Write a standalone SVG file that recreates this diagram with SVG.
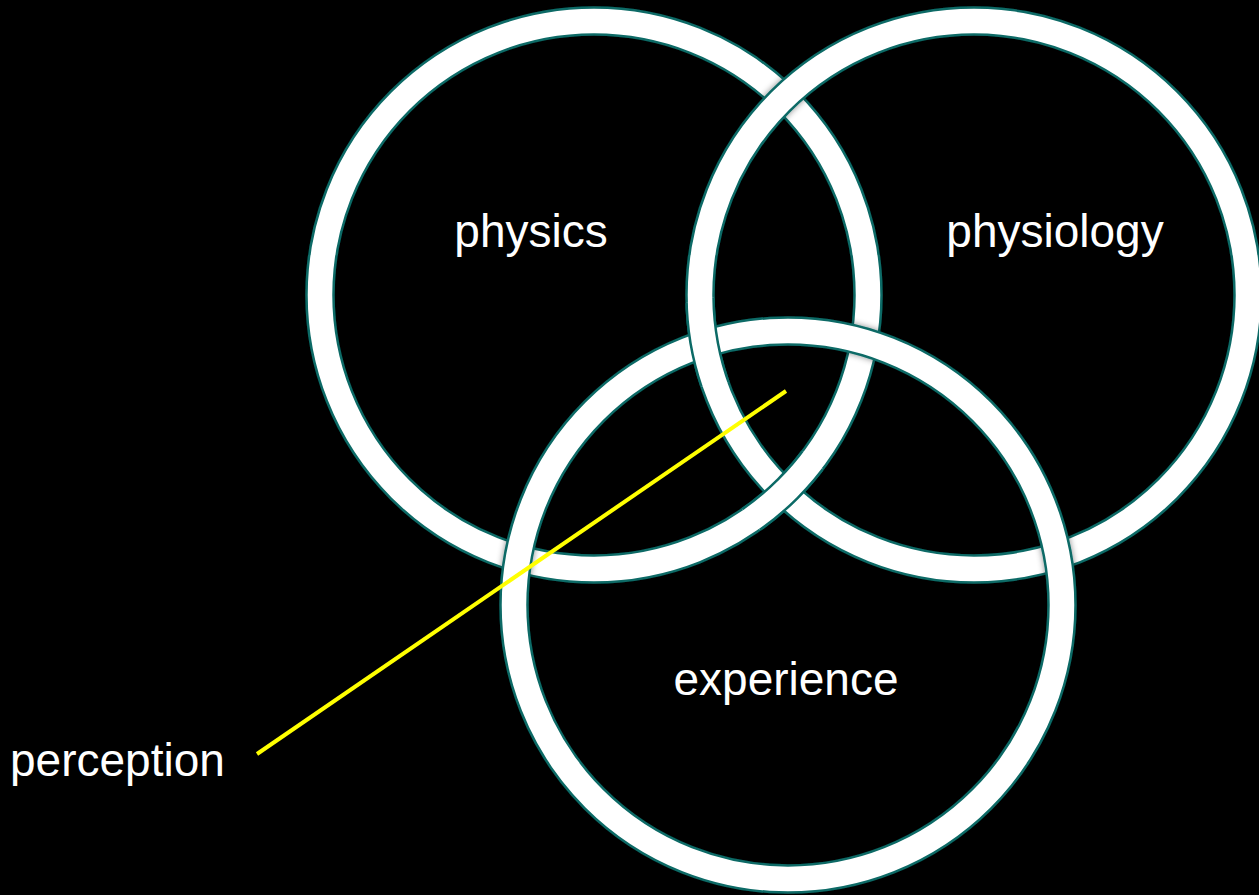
<svg xmlns="http://www.w3.org/2000/svg" width="1259" height="895" viewBox="0 0 1259 895">
  <defs>
    <style>
      .band { fill: none; stroke: #ffffff; stroke-width: 27; }
      .edge { fill: none; stroke: #0b6a66; stroke-width: 2.5; }
      .lbl { font-family: "Liberation Sans", Arial, sans-serif; font-size: 46px; fill: #ffffff; }
    </style>
    <filter id="sh" x="-10%" y="-10%" width="120%" height="120%">
      <feDropShadow dx="0" dy="0" stdDeviation="3" flood-color="#000" flood-opacity="0.45"/>
    </filter>
    <clipPath id="clipB"><circle cx="708" cy="342" r="45"/></clipPath>
    <clipPath id="clipA"><circle cx="784" cy="492" r="45"/></clipPath>
  </defs>
  <rect width="1259" height="895" fill="#000000"/>

  <g id="physics" filter="url(#sh)">
    <circle class="band" cx="594" cy="295" r="274"/>
    <circle class="edge" cx="594" cy="295" r="287.5"/>
    <circle class="edge" cx="594" cy="295" r="260.5"/>
  </g>
  <g id="physiology" filter="url(#sh)">
    <circle class="band" cx="974" cy="295" r="274"/>
    <circle class="edge" cx="974" cy="295" r="287.5"/>
    <circle class="edge" cx="974" cy="295" r="260.5"/>
  </g>
  <g id="experience" filter="url(#sh)">
    <circle class="band" cx="788" cy="605" r="274"/>
    <circle class="edge" cx="788" cy="605" r="287.5"/>
    <circle class="edge" cx="788" cy="605" r="260.5"/>
  </g>
  <g id="weave">
    <g clip-path="url(#clipB)">
      <circle class="band" cx="974" cy="295" r="274"/>
      <circle class="edge" cx="974" cy="295" r="287.5"/>
      <circle class="edge" cx="974" cy="295" r="260.5"/>
    </g>
    <g clip-path="url(#clipA)">
      <circle class="band" cx="594" cy="295" r="274"/>
      <circle class="edge" cx="594" cy="295" r="287.5"/>
      <circle class="edge" cx="594" cy="295" r="260.5"/>
    </g>
  </g>

  <g id="labels">
    <text class="lbl" x="531" y="247" text-anchor="middle">physics</text>
    <text class="lbl" x="1055" y="247" text-anchor="middle">physiology</text>
    <text class="lbl" x="786" y="695" text-anchor="middle">experience</text>
    <text class="lbl" x="10" y="776">perception</text>
  </g>
  <g id="connectors">
    <line x1="257" y1="754" x2="786" y2="391" stroke="#ffff00" stroke-width="4"/>
  </g>
</svg>
